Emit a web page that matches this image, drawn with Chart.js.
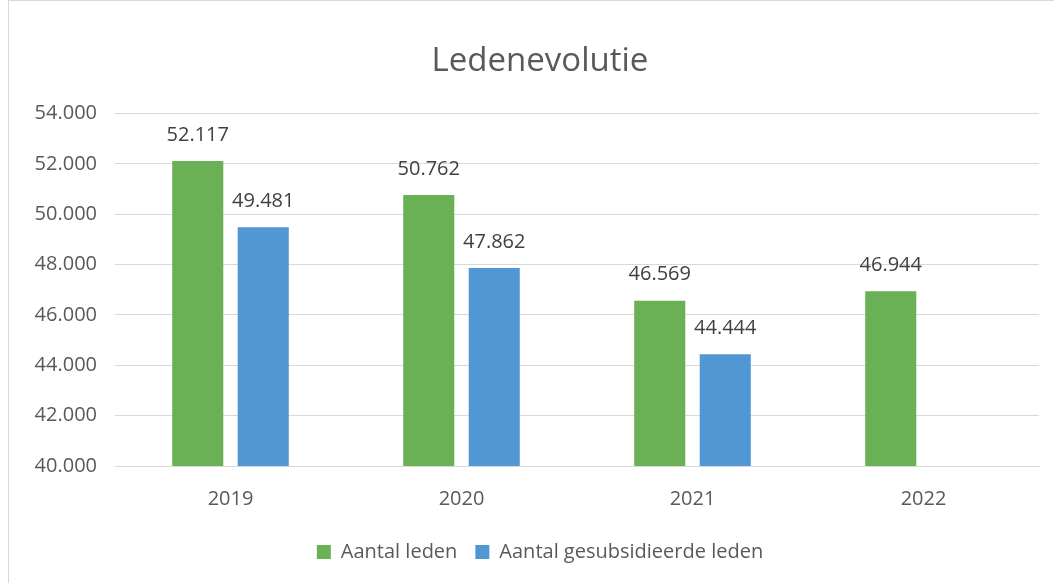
<!DOCTYPE html>
<html>
<head>
<meta charset="utf-8">
<script src="https://cdn.jsdelivr.net/npm/chart.js@4"></script>
<style>
  html, body { margin: 0; padding: 0; background: #fff; overflow: hidden; }
  #wrap {
    position: absolute; left: 8px; top: 0;
    width: 1090px; height: 600px;
    border: 1px solid #d9d9d9; box-sizing: border-box;
  }
  #chart { display: block; }
</style>
</head>
<body>
<div id="wrap"><canvas id="chart" width="1062" height="584"></canvas></div>
<script>
// Ledenevolutie - data
const jaren = ['2019', '2020', '2021', '2022'];
const aantalLeden = [52117, 50762, 46569, 46944];
const gesubsidieerdeLeden = [49481, 47862, 44444, null];
const yTicks = [40000, 42000, 44000, 46000, 48000, 50000, 52000, 54000];

const tekstKleur = '#404040';
const asKleur = '#595959';
const lettertype = '"Open Sans", sans-serif';

// getal in Nederlandse notatie (52.117)
function formatNL(v) {
    return String(Math.round(v)).replace(/\B(?=(\d{3})+(?!\d))/g, '.');
}

// waarden boven de balken tekenen
const waardeLabels = {
    id: 'waardeLabels',
    afterDatasetsDraw(chart) {
        const ctx = chart.ctx;
        ctx.save();
        ctx.font = '20px ' + lettertype;
        ctx.fillStyle = tekstKleur;
        ctx.textAlign = 'center';
        ctx.textBaseline = 'bottom';
        chart.data.datasets.forEach((ds, i) => {
            chart.getDatasetMeta(i).data.forEach((bar, j) => {
                const v = ds.data[j];
                if (v == null) return;
                ctx.fillText(formatNL(v), bar.x, bar.y - 16);
            });
        });
        ctx.restore();
    }
};

new Chart(document.getElementById('chart'), {
    type: 'bar',
    data: {
        labels: jaren,
        datasets: [{
            label: 'Aantal leden',
            data: aantalLeden,
            backgroundColor: '#6ab155',
            categoryPercentage: 0.567,
            barPercentage: 0.78
        }, {
            label: 'Aantal gesubsidieerde leden',
            data: gesubsidieerdeLeden,
            backgroundColor: '#5097d3',
            categoryPercentage: 0.567,
            barPercentage: 0.78
        }]
    },
    options: {
        responsive: false,
        animation: false,
        layout: { padding: { left: 0, right: 0, top: 0, bottom: 13 } },
        plugins: {
            title: {
                display: true,
                text: 'Ledenevolutie',
                color: asKleur,
                font: { family: lettertype, size: 33, weight: 'normal' },
                padding: { top: 41, bottom: 32 }
            },
            legend: {
                position: 'bottom',
                labels: {
                    color: asKleur,
                    font: { family: lettertype, size: 20 },
                    boxWidth: 14,
                    boxHeight: 14,
                    padding: 18
                }
            },
            tooltip: { enabled: false }
        },
        scales: {
            x: {
                grid: { display: false },
                border: { color: '#d9d9d9' },
                ticks: {
                    color: asKleur,
                    font: { family: lettertype, size: 20 },
                    padding: 13
                }
            },
            y: {
                min: 40000,
                max: 54000,
                afterFit(scale) { scale.width = 106; },
                afterBuildTicks(scale) {
                    scale.ticks = yTicks.map(v => ({ value: v }));
                },
                grid: { color: '#d9d9d9', drawTicks: false },
                border: { display: false },
                ticks: {
                    color: asKleur,
                    font: { family: lettertype, size: 20 },
                    padding: 18,
                    callback: v => formatNL(v)
                }
            },
            // lege rechteras: alleen ruimte rechts van het plotvlak
            rechts: {
                position: 'right',
                afterFit(scale) { scale.width = 32; },
                grid: { display: false },
                border: { display: false },
                ticks: { display: false }
            }
        }
    },
    plugins: [waardeLabels]
});
</script>
</body>
</html>
